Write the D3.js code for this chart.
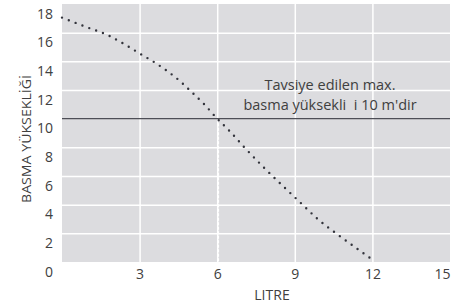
<!DOCTYPE html>
<html>
<head>
<meta charset="utf-8">
<script src="https://cdn.jsdelivr.net/npm/d3@7"></script>
<style>
	body { margin: 0; background: #fff; }
	text { font-family: "Open Sans", sans-serif; fill: #404040; }
</style>
</head>
<body>
<div id="chart"></div>
<script>

// data
var litre  = [0, 0.9, 1.8, 2.5, 3.0, 3.6, 4.1, 4.6, 5.05, 5.5, 6.0, 6.5, 7.0, 7.8, 8.5, 9.2, 9.9, 10.7, 11.5, 12.05];
var basma  = [17.05, 16.42, 15.8, 15.1, 14.55, 13.9, 13.28, 12.56, 11.79, 11.0, 10.0, 9.1, 8.1, 6.6, 5.37, 4.17, 2.98, 1.86, 0.81, 0.1];
var xTicks = [3, 6, 9, 12, 15];
var yTicks = [0, 2, 4, 6, 8, 10, 12, 14, 16, 18];
var maxHeight = 10;      // recommended max
var crossLitre = 6.05;   // where the curve meets it
var noteLines = ["Tavsiye edilen max.", "basma yüksekli\u00a0\u00a0i 10 m'dir"];

var margin = {top: 4, right: 15, bottom: 43, left: 62},
	width = 465 - margin.left - margin.right,
	height = 305 - margin.top - margin.bottom;

var svg = d3.select("#chart").append("svg")
	.attr("width", 465)
	.attr("height", 305)
  .append("g")
	.attr("transform", "translate(" + margin.left + "," + margin.top + ")");

var x = d3.scaleLinear().domain([0, 15]).range([0, width]);
var y = d3.scaleLinear().domain([0, 18]).range([height, 0]);

// plot background
svg.append("rect")
	.attr("width", width)
	.attr("height", height)
	.attr("fill", "#dcdcdf");

// grid
svg.append("g")
	.attr("transform", "translate(0," + height + ")")
	.call(d3.axisBottom(x).tickValues([3, 6, 9, 12]).tickSize(-height).tickFormat(""))
	.call(function(g) { g.select(".domain").remove(); g.selectAll("line").attr("stroke", "#fff").attr("stroke-width", 1.5); });
svg.append("g")
	.call(d3.axisLeft(y).tickValues([2, 4, 6, 8, 12, 14, 16]).tickSize(-width).tickFormat(""))
	.call(function(g) { g.select(".domain").remove(); g.selectAll("line").attr("stroke", "#fff").attr("stroke-width", 1.5); });

// tick labels
svg.append("g")
	.attr("transform", "translate(0," + height + ")")
	.call(d3.axisBottom(x).tickValues(xTicks).tickSize(0).tickPadding(0))
	.call(function(g) {
		g.select(".domain").remove();
		g.selectAll("text").attr("y", 17).attr("dy", 0).style("font-size", "14px").attr("fill", "#404040");
		g.selectAll("text").filter(function(d) { return d == 15; }).attr("text-anchor", "end");
	});
svg.append("g")
	.call(d3.axisLeft(y).tickValues(yTicks).tickSize(0).tickPadding(9))
	.call(function(g) {
		g.select(".domain").remove();
		g.selectAll("text").attr("dy", 14).style("font-size", "14px").attr("fill", "#404040");
	});

// vertical dashed marker
svg.append("line")
	.attr("x1", x(crossLitre)).attr("x2", x(crossLitre))
	.attr("y1", y(maxHeight)).attr("y2", height)
	.attr("stroke", "#fff")
	.attr("stroke-width", 1.2)
	.attr("stroke-dasharray", "3,1.5");

// recommended max line
svg.append("line")
	.attr("x1", 0).attr("x2", width)
	.attr("y1", y(maxHeight)).attr("y2", y(maxHeight))
	.attr("stroke", "#4d4e56")
	.attr("stroke-width", 1.3);

// dotted curve
var pts = litre.map(function(d, i) { return {l: d, h: basma[i]}; });
svg.append("path")
	.datum(pts)
	.attr("fill", "none")
	.attr("stroke", "#33343c")
	.attr("stroke-width", 2.4)
	.attr("stroke-linecap", "round")
	.attr("stroke-dasharray", "0,7.3")
	.attr("d", d3.line().curve(d3.curveMonotoneX)
		.x(function(d) { return x(d.l); })
		.y(function(d) { return y(d.h); }));

// note, two separate lines
svg.selectAll("text.note").data(noteLines).enter().append("text")
	.attr("class", "note")
	.attr("x", 268)
	.attr("y", function(d, i) { return 86 + i * 20; })
	.attr("text-anchor", "middle")
	.style("font-size", "14.5px")
	.style("white-space", "pre")
	.text(function(d) { return d; });

// axis titles
svg.append("text")
	.attr("x", 210).attr("y", height + 38)
	.attr("text-anchor", "middle")
	.style("font-size", "14px")
	.text("LITRE");

svg.append("text")
	.attr("transform", "translate(-31," + 135 + ") rotate(-90)")
	.attr("text-anchor", "middle")
	.attr("textLength", 128)
	.attr("lengthAdjust", "spacingAndGlyphs")
	.style("font-size", "13.5px")
	.text("BASMA YÜKSEKLİĞİ");

</script>
</body>
</html>
